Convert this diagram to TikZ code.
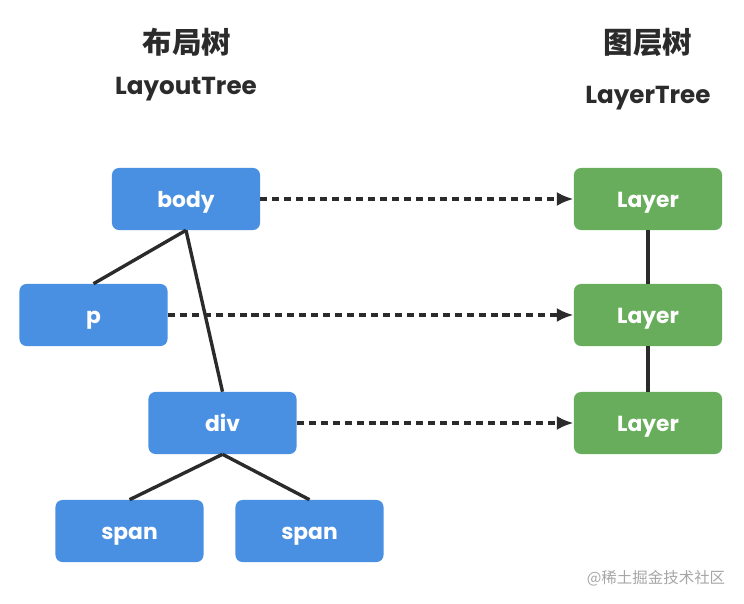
\documentclass[tikz,border=0pt]{standalone}
\usepackage{fontspec}
\setmainfont{Poppins}
\newfontfamily\cjk{Noto Sans CJK SC}
\usetikzlibrary{arrows.meta}

\definecolor{boxblue}{HTML}{4A90E2}
\definecolor{boxgreen}{HTML}{67AD5B}
\definecolor{linegray}{HTML}{2B2B2B}

\begin{document}
\begin{tikzpicture}[
  x=0.025cm, y=-0.025cm,
  dombox/.style={rectangle, rounded corners=5pt, fill=boxblue, text=white, minimum width=3.7cm, minimum height=1.55cm, text height=1.15em, text depth=0em, font=\fontsize{15.5}{18}\selectfont\bfseries},
  layerbox/.style={dombox, fill=boxgreen},
  edge/.style={draw=linegray, line width=2.4pt},
  maparrow/.style={draw=linegray, line width=2.6pt, dash pattern=on 5pt off 3.5pt, -{Latex[length=12pt, width=10pt]}},
  title/.style={font=\cjk\fontsize{21}{24}\selectfont\bfseries, text=linegray},
  subtitle/.style={font=\fontsize{17.5}{20}\selectfont\bfseries, text=linegray}
]
\useasboundingbox (0,0) rectangle (744,604);

% titles
\node[title] (t1) at (187,42) {布局树};
\node[subtitle] (s1) at (186,89) {LayoutTree};
\node[title] (t2) at (648,42) {图层树};
\node[subtitle] (s2) at (648,98) {LayerTree};

% layout tree
\node[dombox] (body) at (186,199) {body};
\node[dombox] (p) at (93.5,315) {p};
\node[dombox] (div) at (222.5,423) {div};
\node[dombox] (span1) at (129.5,531) {span};
\node[dombox] (span2) at (309.5,531) {span};

% layer tree
\node[layerbox] (l1) at (648,199) {Layer};
\node[layerbox] (l2) at (648,315) {Layer};
\node[layerbox] (l3) at (648,423) {Layer};

\draw[edge] (body.south) -- (p.north);
\draw[edge] (body.south) -- (div.north);
\draw[edge] (div.south) -- (span1.north);
\draw[edge] (div.south) -- (span2.north);
\draw[edge] (l1) -- (l2);
\draw[edge] (l2) -- (l3);

\draw[maparrow] (body) -- (l1);
\draw[maparrow] (p) -- (l2);
\draw[maparrow] (div) -- (l3);

\node[font=\cjk\fontsize{11}{13}\selectfont, text=black!35] (mark) at (656,578) {@稀土掘金技术社区};
\end{tikzpicture}
\end{document}
